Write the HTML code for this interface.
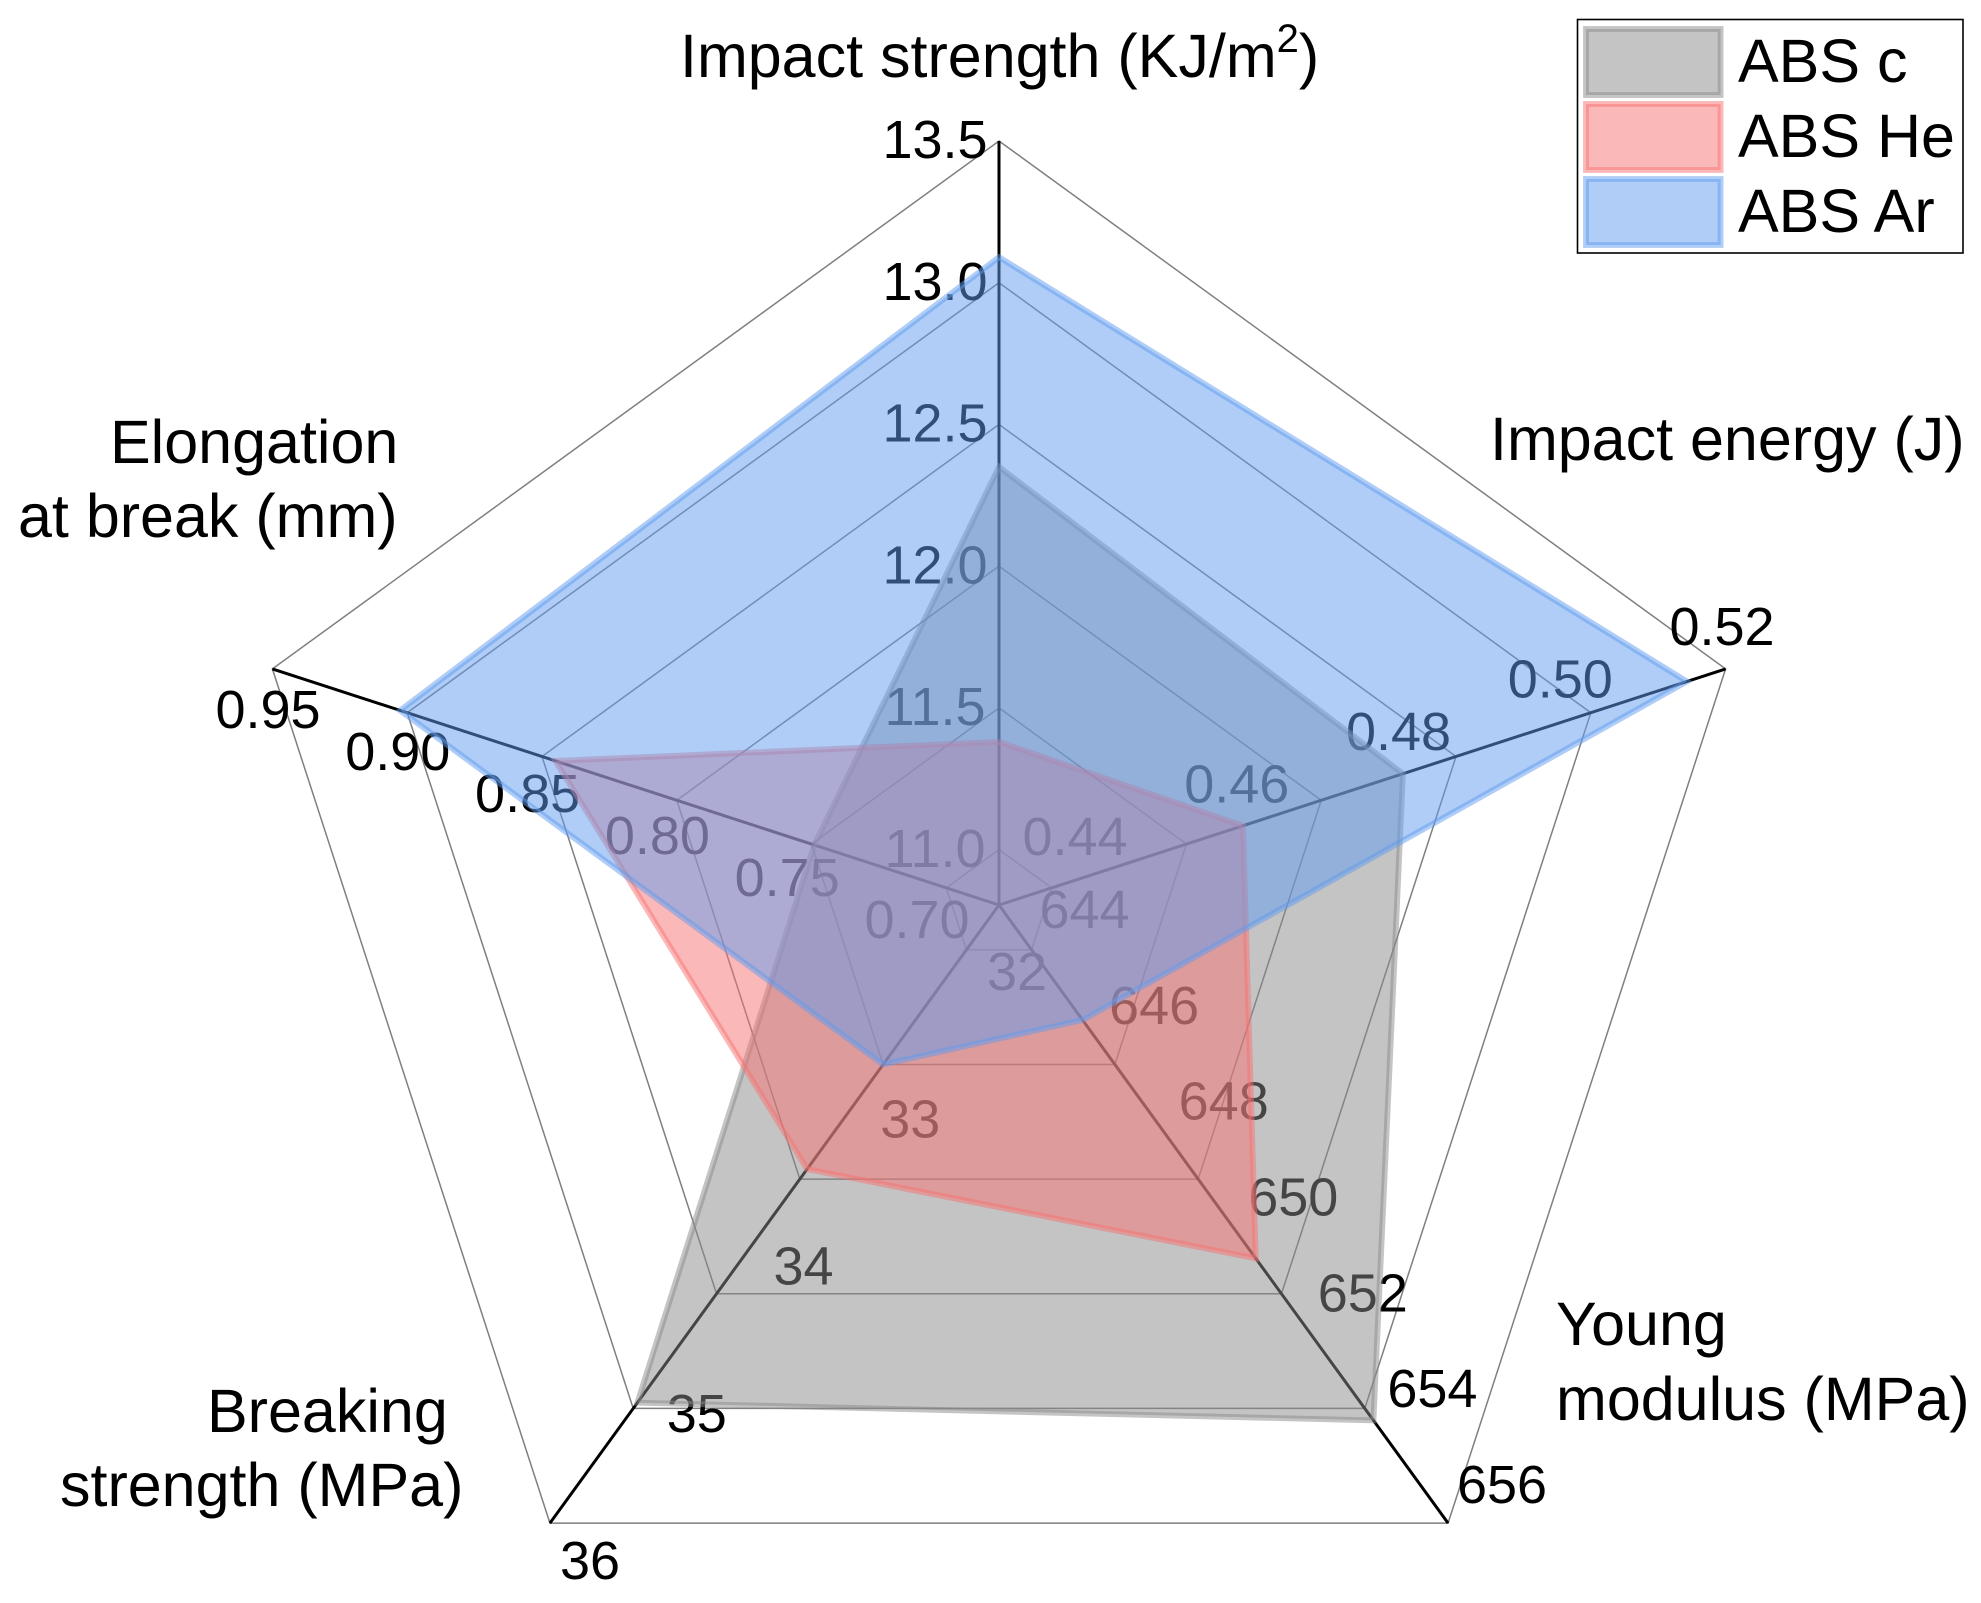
<!DOCTYPE html>
<html>
<head>
<meta charset="utf-8">
<title>ABS radar chart</title>
<style>
html,body{margin:0;padding:0;background:#fff;}
svg{display:block;font-family:"Liberation Sans",Arial,sans-serif;}
</style>
</head>
<body>
<svg id="chart" xmlns="http://www.w3.org/2000/svg" width="1981" height="1603" viewBox="0 0 1981 1603">
  <g id="grid"></g>
  <g id="axes"></g>
  <g id="ticks" font-size="54" fill="#000" text-anchor="middle"></g>
  <g id="series"></g>
  <g font-size="61" fill="#000">
    <text x="680" y="77">Impact strength (KJ/m<tspan font-size="40" dy="-25">2</tspan><tspan dy="25">)</tspan></text>
    <text x="1490" y="460">Impact energy (J)</text>
    <text x="1556" y="1345">Young</text>
    <text x="1556" y="1420">modulus (MPa)</text>
    <text x="207" y="1432">Breaking</text>
    <text x="60" y="1506">strength (MPa)</text>
    <text x="110" y="463">Elongation</text>
    <text x="18" y="537">at break (mm)</text>
  </g>
  <g>
    <rect x="1577.5" y="19.5" width="385.5" height="233.5" fill="#fff" stroke="#000" stroke-width="1.6"/>
    <rect x="1586" y="29" width="134.6" height="66" fill="rgb(137,137,137)" fill-opacity=".5" stroke="rgb(137,137,137)" stroke-opacity=".5" stroke-width="5.8"/>
    <rect x="1586" y="104" width="134.6" height="66" fill="rgb(247,113,113)" fill-opacity=".5" stroke="rgb(247,113,113)" stroke-opacity=".5" stroke-width="5.8"/>
    <rect x="1586" y="179" width="134.6" height="66" fill="rgb(95,155,237)" fill-opacity=".5" stroke="rgb(95,155,237)" stroke-opacity=".5" stroke-width="5.8"/>
    <text x="1738" y="82" font-size="61" fill="#000">ABS c</text>
    <text x="1738" y="157" font-size="61" fill="#000">ABS He</text>
    <text x="1738" y="232" font-size="61" fill="#000">ABS Ar</text>
  </g>
</svg>
<script>
// ---- chart data ----
var categories = ["Impact strength", "Impact energy", "Young modulus", "Breaking strength", "Elongation at break"];
var ticksImpactStrength = ["11.0", "11.5", "12.0", "12.5", "13.0", "13.5"];
var ticksImpactEnergy = ["0.44", "0.46", "0.48", "0.50", "0.52"];
var ticksYoung = ["644", "646", "648", "650", "652", "654", "656"];
var ticksBreaking = ["32", "33", "34", "35", "36"];
var ticksElongation = ["0.70", "0.75", "0.80", "0.85", "0.90", "0.95"];
var absC = [12.35, 0.4817, 653.85, 35.16, 0.749];
var absHe = [11.38, 0.4627, 650.46, 33.53, 0.845];
var absAr = [13.09, 0.5154, 645.47, 32.80, 0.9026];

// ---- layout ----
var NS = "http://www.w3.org/2000/svg";
var CX = 999, CY = 905, R = 764, ORIGIN = 0.0725, RINGS = 6;
var tickSets = [ticksImpactStrength, ticksImpactEnergy, ticksYoung, ticksBreaking, ticksElongation];
var labelAnchors = [
  {first: [935, 849], last: [935, 140]},
  {first: [1075, 837], last: [1722, 627]},
  {first: [1084.5, 910], last: [1502, 1485]},
  {first: [1017, 972], last: [590, 1561]},
  {first: [917, 920], last: [268, 710]}
];

function axisPoint(i, frac) {
  var a = (-90 + 72 * i) * Math.PI / 180;
  return [CX + R * frac * Math.cos(a), CY + R * frac * Math.sin(a)];
}
function valueFrac(i, v) {
  var t = tickSets[i];
  var lo = parseFloat(t[0]), hi = parseFloat(t[t.length - 1]);
  return ORIGIN + (v - lo) / (hi - lo) * (1 - ORIGIN);
}
function pts(list) {
  return list.map(function (p) { return p[0].toFixed(2) + "," + p[1].toFixed(2); }).join(" ");
}

// grid rings
var gridG = document.getElementById("grid");
for (var k = 0; k < RINGS; k++) {
  var frac = ORIGIN + k * (1 - ORIGIN) / (RINGS - 1);
  var ringPts = categories.map(function (c, i) { return axisPoint(i, frac); });
  var ring = document.createElementNS(NS, "polygon");
  
  
  ring.setAttribute("points", pts(ringPts));
  ring.setAttribute("fill", "none");
  ring.setAttribute("stroke", "#7f7f7f");
  ring.setAttribute("stroke-width", "1.5");
  gridG.appendChild(ring);
}

// axis spokes
var axesG = document.getElementById("axes");
categories.forEach(function (c, i) {
  var tip = axisPoint(i, 1);
  var line = document.createElementNS(NS, "line");
  
  
  line.setAttribute("x1", CX);
  line.setAttribute("y1", CY);
  line.setAttribute("x2", tip[0].toFixed(2));
  line.setAttribute("y2", tip[1].toFixed(2));
  line.setAttribute("stroke", "#000");
  line.setAttribute("stroke-width", "3");
  axesG.appendChild(line);
});

// tick labels
var ticksG = document.getElementById("ticks");
tickSets.forEach(function (labels, i) {
  var an = labelAnchors[i];
  labels.forEach(function (txt, j) {
    var t = j / (labels.length - 1);
    var x = an.first[0] + (an.last[0] - an.first[0]) * t;
    var y = an.first[1] + (an.last[1] - an.first[1]) * t;
    var el = document.createElementNS(NS, "text");
    
    
    el.setAttribute("x", x.toFixed(1));
    el.setAttribute("y", (y + 18).toFixed(1));
    el.textContent = txt;
    ticksG.appendChild(el);
  });
});

// series polygons
var seriesG = document.getElementById("series");
function drawSeries(values, color, name) {
  var p = values.map(function (v, i) { return axisPoint(i, valueFrac(i, v)); });
  var poly = document.createElementNS(NS, "polygon");
  
  
  poly.setAttribute("points", pts(p));
  poly.setAttribute("fill", color);
  poly.setAttribute("fill-opacity", "0.5");
  poly.setAttribute("stroke", color);
  poly.setAttribute("stroke-opacity", "0.5");
  poly.setAttribute("stroke-width", "5.8");
  poly.setAttribute("stroke-linejoin", "miter");
  seriesG.appendChild(poly);
}
drawSeries(absC, "rgb(137,137,137)", "series-abs-c");
drawSeries(absHe, "rgb(247,113,113)", "series-abs-he");
drawSeries(absAr, "rgb(95,155,237)", "series-abs-ar");
</script>
</body>
</html>
